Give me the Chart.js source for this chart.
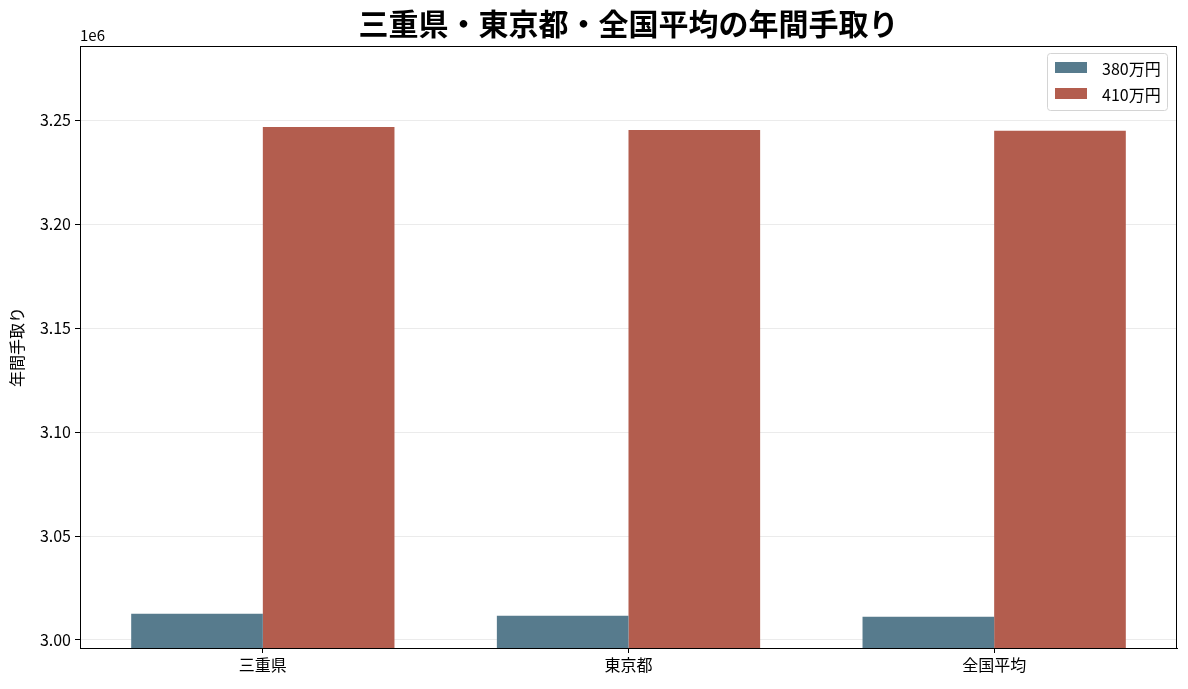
<!DOCTYPE html>
<html>
<head>
<meta charset="utf-8">
<script src="https://cdn.jsdelivr.net/npm/chart.js@4.4.1/dist/chart.umd.min.js"></script>
<style>
  html, body { margin: 0; padding: 0; background: #fff; }
  #wrap { width: 1188px; height: 689px; position: relative; }
</style>
</head>
<body>
<div id="wrap"><canvas id="chart"></canvas></div>
<script>
const categories = ["三重県", "東京都", "全国平均"];
const seriesNames = ["380万円", "410万円"];
const values380 = [3012600, 3011700, 3011200];
const values410 = [3246800, 3245300, 3244900];
const yTicks = [3000000, 3050000, 3100000, 3150000, 3200000, 3250000];
const titleText = "三重県・東京都・全国平均の年間手取り";
const yLabel = "年間手取り";

const FONT = "'Noto Sans CJK JP', 'Noto Sans', sans-serif";
const colors = ["#577b8d", "#b35d4e"];

// title, 1e6 offset text, frame and legend box
const decor = {
  id: "decor",
  afterDraw(chart) {
    const c = chart.ctx;
    const a = chart.chartArea;
    c.save();
    c.strokeStyle = "#000";
    c.lineWidth = 1;
    c.strokeRect(a.left + 0.5, a.top + 0.5, a.right - a.left - 1, a.bottom - a.top);

    c.fillStyle = "#000";
    c.font = "bold 30px " + FONT;
    c.textAlign = "center";
    c.textBaseline = "middle";
    c.fillText(titleText, (a.left + a.right) / 2, 24);

    c.font = "15px " + FONT;
    c.textAlign = "left";
    c.textBaseline = "alphabetic";
    c.fillText("1e6", a.left, 41);

    // legend
    const bx = 1047, by = 53, bw = 120, bh = 57;
    c.beginPath();
    c.roundRect(bx + 0.5, by + 0.5, bw, bh, 3);
    c.fillStyle = "rgba(255,255,255,0.85)";
    c.fill();
    c.strokeStyle = "#d4d4d4";
    c.stroke();
    chart.data.datasets.forEach((ds, i) => {
      const y = by + 15 + i * 26;
      c.fillStyle = ds.backgroundColor;
      c.fillRect(bx + 8, y - 6, 32, 11);
      c.fillStyle = "#000";
      c.font = "16px " + FONT;
      c.textBaseline = "middle";
      c.fillText(ds.label, bx + 55, y + 1);
    });
    c.restore();
  }
};

new Chart(document.getElementById("chart"), {
  type: "bar",
  data: {
    labels: categories,
    datasets: [
      { label: seriesNames[0], data: values380, backgroundColor: colors[0] },
      { label: seriesNames[1], data: values410, backgroundColor: colors[1] },
    ],
  },
  options: {
    responsive: true,
    maintainAspectRatio: false,
    animation: false,
    layout: { padding: { top: 46, right: 11, left: 0, bottom: 0 } },
    categoryPercentage: 0.72,
    barPercentage: 1.0,
    plugins: { legend: { display: false }, title: { display: false }, tooltip: { enabled: false } },
    scales: {
      x: {
        z: 1,
        grid: { offset: false, drawOnChartArea: false, tickColor: "#000", tickLength: 5 },
        border: { color: "#000" },
        ticks: { color: "#000", font: { family: FONT, size: 16 }, padding: 2 },
        afterFit(s) { s.height = 41; },
      },
      y: {
        z: 1,
        min: 2996150,
        max: 3285720,
        grid: { color: "rgba(204,204,204,0.4)", tickColor: "#000", tickLength: 5 },
        border: { color: "#000" },
        afterBuildTicks(s) { s.ticks = yTicks.map(v => ({ value: v })); },
        ticks: {
          color: "#000",
          font: { family: FONT, size: 16 },
          padding: 4,
          callback: v => (v / 1e6).toFixed(2),
        },
        title: {
          display: true,
          text: yLabel,
          color: "#000",
          font: { family: FONT, size: 16 },
          padding: { top: 7, bottom: 0 },
        },
        afterFit(s) { s.width = 80; },
      },
    },
  },
  plugins: [decor],
});
</script>
</body>
</html>
